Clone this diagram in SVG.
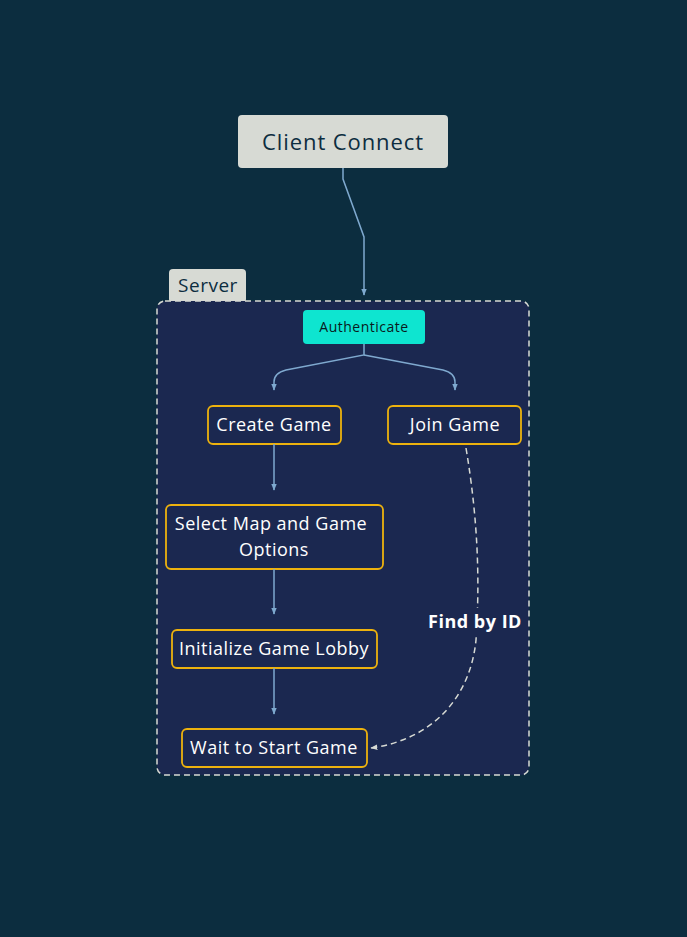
<svg xmlns="http://www.w3.org/2000/svg" width="687" height="937" viewBox="0 0 687 937">
<defs>
<style>
.node{fill:#1b2850;stroke:#edb20e;stroke-width:1.8}
.lbl{font-family:"Open Sans","Liberation Sans",sans-serif;font-size:18px;letter-spacing:0.5px;fill:#ffffff;text-anchor:middle}
.edge{fill:none;stroke:#7fa9cf;stroke-width:1.5}
</style>
<marker id="ah" viewBox="0 0 10 10" refX="9" refY="5" markerWidth="7" markerHeight="7" markerUnits="userSpaceOnUse" orient="auto">
<path d="M0,1 L10,5 L0,9 Z" fill="#7fa9cf"/>
</marker>
<marker id="ahw" viewBox="0 0 10 10" refX="9" refY="5" markerWidth="7" markerHeight="7" markerUnits="userSpaceOnUse" orient="auto">
<path d="M0,1 L10,5 L0,9 Z" fill="#d7dad4"/>
</marker>
</defs>
<rect width="687" height="937" fill="#0c2d3f"/>

<g id="client">
<rect x="238" y="115" width="210" height="53" rx="4" fill="#d7dad4"/>
<text x="343" y="150" font-family="'Open Sans','Liberation Sans',sans-serif" font-size="22" letter-spacing="0.9" fill="#0c2d3f" text-anchor="middle">Client Connect</text>
</g>

<g id="server">
<rect x="169" y="269" width="77" height="34" rx="4" fill="#d7dad4"/>
<text x="208" y="292" font-family="'Open Sans','Liberation Sans',sans-serif" font-size="19" letter-spacing="0.5" fill="#0c2d3f" text-anchor="middle">Server</text>
<rect x="157" y="301" width="372" height="474" rx="8" fill="#1b2850" stroke="#d7dad4" stroke-width="1.5" stroke-dasharray="6,4"/>
</g>

<g id="authenticate">
<rect x="303" y="310" width="122" height="34" rx="4" fill="#0ee5d0"/>
<text x="364" y="332" font-family="'Open Sans','Liberation Sans',sans-serif" font-size="14" letter-spacing="0.5" fill="#0a1a20" text-anchor="middle">Authenticate</text>
</g>

<g id="create">
<rect class="node" x="208" y="406" width="133" height="38" rx="5"/>
<text class="lbl" x="274" y="431">Create Game</text>
</g>
<g id="join">
<rect class="node" x="388" y="406" width="133" height="38" rx="5"/>
<text class="lbl" x="455" y="431">Join Game</text>
</g>
<g id="select">
<rect class="node" x="166" y="505" width="217" height="64" rx="5"/>
<text class="lbl" x="271" y="530">Select Map and Game</text>
<text class="lbl" x="274" y="556">Options</text>
</g>
<g id="init">
<rect class="node" x="172" y="630" width="205" height="38" rx="5"/>
<text class="lbl" x="274" y="655">Initialize Game Lobby</text>
</g>
<g id="wait">
<rect class="node" x="182" y="729" width="185" height="38" rx="5"/>
<text class="lbl" x="274" y="754">Wait to Start Game</text>
</g>

<g id="connectors">
<path class="edge" d="M343,168 V179 L364,237 V295" marker-end="url(#ah)"/>
<path class="edge" d="M364,344 V355 L286,370 Q274,373 274,382 V390" marker-end="url(#ah)"/>
<path class="edge" d="M364,355 L443,370 Q455,373 455,382 V390" marker-end="url(#ah)"/>
<path class="edge" d="M274,444 V490" marker-end="url(#ah)"/>
<path class="edge" d="M274,569 V614" marker-end="url(#ah)"/>
<path class="edge" d="M274,668 V714" marker-end="url(#ah)"/>
<path d="M466,448 C478,520 480,580 476,640 C470,700 430,740 371,748" fill="none" stroke="#d7dad4" stroke-width="1.5" stroke-dasharray="6,4" marker-end="url(#ahw)"/>
<rect x="426" y="608" width="97" height="26" fill="#1b2850"/>
<text x="475" y="628" font-family="'Open Sans','Liberation Sans',sans-serif" font-size="18" font-weight="bold" letter-spacing="0.5" fill="#ffffff" text-anchor="middle">Find by ID</text>
</g>
</svg>
